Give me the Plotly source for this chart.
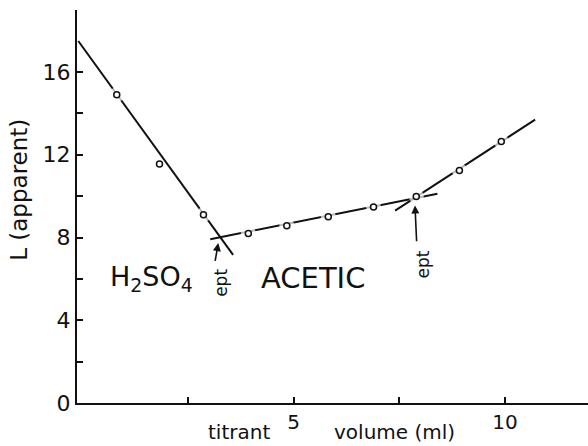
import plotly.graph_objects as go

# ---- data ----
vol = [0.82, 1.83, 2.87, 3.93, 4.84, 5.82, 6.89, 7.90, 8.92, 9.91]
L_app = [14.9, 11.55, 9.1, 8.2, 8.57, 9.01, 9.47, 9.98, 11.24, 12.64]

# fitted branch lines (end points)
h2so4_x = [-0.09, 3.57]
h2so4_y = [17.5, 7.16]
acetic_x = [3.03, 8.4]
acetic_y = [7.92, 10.12]
excess_x = [7.40, 10.71]
excess_y = [9.30, 13.7]

# end points (arrow head / tail)
ept1_head = (3.22, 7.73)
ept1_tail = (3.14, 6.80)
ept2_head = (7.87, 9.55)
ept2_tail = (7.91, 7.75)

y_ticks = [0, 2, 4, 6, 8, 10, 12, 14, 16]
y_labels = ["0", "", "4", "", "8", "", "12", "", "16"]
x_ticks = [2.5, 5, 7.5, 10]
x_labels = ["", "5", "", "10"]

FONT = "DejaVu Sans"
INK = "#111111"

# halo size per point (point 2 lies off its line, so a smaller halo)
halo_sizes = [15, 10, 15, 15, 15, 15, 15, 15, 15, 15]

fig = go.Figure()
for lx, ly in [(h2so4_x, h2so4_y), (acetic_x, acetic_y), (excess_x, excess_y)]:
    fig.add_trace(go.Scatter(x=lx, y=ly, mode="lines",
                             line=dict(color=INK, width=2), hoverinfo="skip",
                             showlegend=False))
# white halo to break the lines around each point
fig.add_trace(go.Scatter(x=vol, y=L_app, mode="markers",
                         marker=dict(size=halo_sizes, color="white", line=dict(width=0)),
                         hoverinfo="skip", showlegend=False))
fig.add_trace(go.Scatter(x=vol, y=L_app, mode="markers",
                         marker=dict(size=6, color="white", symbol="circle",
                                     line=dict(color=INK, width=1.5)),
                         showlegend=False))

ann = []
for head, tail in [(ept1_head, ept1_tail), (ept2_head, ept2_tail)]:
    ann.append(dict(x=head[0], y=head[1], ax=tail[0], ay=tail[1],
                    xref="x", yref="y", axref="x", ayref="y", text="",
                    showarrow=True, arrowhead=2, arrowsize=1, arrowwidth=1.6,
                    arrowcolor=INK, standoff=0, startstandoff=0))
ann.append(dict(x=3.28, y=5.8, xref="x", yref="y", text="ept", textangle=-90,
                showarrow=False, font=dict(family=FONT, size=17, color=INK)))
ann.append(dict(x=8.05, y=6.68, xref="x", yref="y", text="ept", textangle=-90,
                showarrow=False, font=dict(family=FONT, size=17, color=INK)))
ann.append(dict(x=1.65, y=6.0, xref="x", yref="y",
                text="H<sub>2</sub>SO<sub>4</sub>",
                showarrow=False, font=dict(family=FONT, size=27, color=INK)))
ann.append(dict(x=5.45, y=6.05, xref="x", yref="y", text="ACETIC",
                showarrow=False, font=dict(family=FONT, size=29, color=INK)))
ann.append(dict(x=-0.115, y=0.543, xref="paper", yref="paper",
                xanchor="center", yanchor="middle",
                text="L (apparent)", textangle=-90, showarrow=False,
                font=dict(family=FONT, size=23, color=INK)))
ann.append(dict(x=3.72, y=-0.1087, xref="x", yref="paper", text="titrant",
                showarrow=False, yanchor="bottom",
                font=dict(family=FONT, size=20, color=INK)))
ann.append(dict(x=7.38, y=-0.1087, xref="x", yref="paper", text="volume (ml)",
                showarrow=False, yanchor="bottom",
                font=dict(family=FONT, size=20, color=INK)))

fig.update_layout(
    width=588, height=446,
    margin=dict(l=77, r=0, t=10, b=43),
    paper_bgcolor="white", plot_bgcolor="white",
    font=dict(family=FONT, color=INK),
    annotations=ann,
    xaxis=dict(range=[-0.12, 11.96], showgrid=False, zeroline=False,
               showline=True, linecolor=INK, linewidth=2,
               ticks="inside", ticklen=6, tickwidth=1.6, tickcolor=INK,
               tickvals=x_ticks, ticktext=x_labels,
               tickfont=dict(family=FONT, size=20, color=INK)),
    yaxis=dict(range=[0, 19], showgrid=False, zeroline=False,
               showline=True, linecolor=INK, linewidth=2,
               ticks="inside", ticklen=6, tickwidth=1.6, tickcolor=INK,
               tickvals=y_ticks, ticktext=y_labels,
               tickfont=dict(family=FONT, size=22, color=INK)),
)

fig.write_html("out.html")
